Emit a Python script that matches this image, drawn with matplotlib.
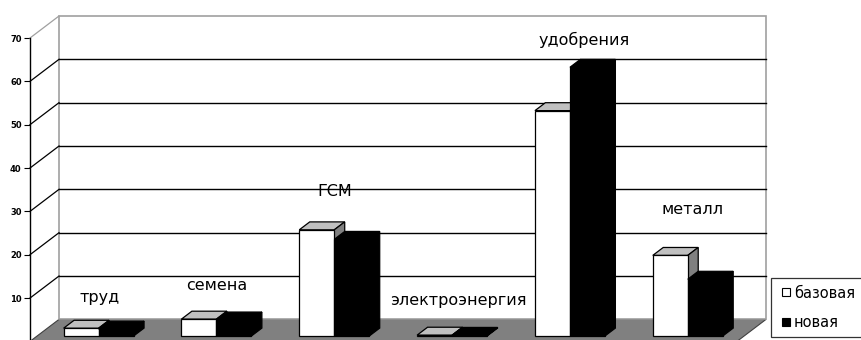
import matplotlib.pyplot as plt
from matplotlib.patches import Polygon
from matplotlib.lines import Line2D

# cost components, base vs new variant
categories = ["труд", "семена", "ГСМ", "электроэнергия", "удобрения", "металл"]
base = [1.8, 3.9, 24.5, 0.2, 52, 18.6]
new = [1.6, 3.7, 22.3, 0.15, 62, 13.1]
series_names = ["базовая", "новая"]
yticks = [10, 20, 30, 40, 50, 60, 70]

# label anchor positions (slot units, value units)
label_x = [0.594, 1.587, 2.588, 3.632, 4.702, 5.627]
label_y = [10.2, 12.8, 34.7, 9.5, 69.5, 30.5]

# oblique 3d look: depth offset of the back wall in data units
wall_dx, wall_dy = 0.2461, 5.076
bar_front, bar_depth = 0.245, 0.36
bar_w = 0.297
bar_off = 0.225

fig = plt.figure(figsize=(8.61, 3.40), dpi=100)
ax = fig.add_axes([30 / 861, -1.4 / 340, 707 / 861, 303.4 / 340])
ax.set_xlim(0, 6)
ax.set_ylim(0, 70)
ax.patch.set_visible(False)
for s in ["top", "right", "bottom"]:
    ax.spines[s].set_visible(False)
ax.spines["left"].set_linewidth(1.0)
ax.spines["left"].set_zorder(6)
ax.set_xticks([])
ax.set_yticks(yticks)
ax.set_yticklabels([str(t) for t in yticks], fontsize=6, fontweight="bold")
ax.tick_params(axis="y", direction="out", length=4, width=0.8, pad=2)

n = len(categories)
top = yticks[-1]

# floor
ax.add_patch(Polygon([(0, 0), (n, 0), (n + wall_dx, wall_dy), (wall_dx, wall_dy)],
                     closed=True, facecolor="#808080", edgecolor="#404040",
                     lw=0.8, clip_on=False, zorder=1))
# back wall
ax.add_patch(Polygon([(wall_dx, wall_dy), (n + wall_dx, wall_dy),
                      (n + wall_dx, top + wall_dy), (wall_dx, top + wall_dy)],
                     closed=True, facecolor="white", edgecolor="#a0a0a0",
                     lw=1.2, clip_on=False, zorder=1))
# gridlines on back wall and side diagonals
for t in yticks:
    col = "#a0a0a0" if t == top else "black"
    if t != top:
        ax.plot([wall_dx, n + wall_dx], [t + wall_dy, t + wall_dy],
                color="black", lw=1.0, clip_on=False, zorder=2)
    ax.plot([0, wall_dx], [t, t + wall_dy], color=col, lw=0.9,
            clip_on=False, zorder=2)

fx = bar_front * wall_dx
fy = bar_front * wall_dy
ddx = bar_depth * wall_dx
ddy = bar_depth * wall_dy

styles = [
    dict(front="white", top="#c0c0c0", side="#808080", z=3),
    dict(front="black", top="black", side="black", z=4),
]

for k, vals in enumerate([base, new]):
    st = styles[k]
    xs = [i + bar_off + k * bar_w + fx for i in range(n)]
    ax.bar(xs, vals, width=bar_w, bottom=fy, align="edge", color=st["front"],
           edgecolor="black", lw=0.9, clip_on=False, zorder=st["z"] + 0.2)
    for x, v in zip(xs, vals):
        yt = fy + v
        ax.add_patch(Polygon([(x, yt), (x + bar_w, yt), (x + bar_w + ddx, yt + ddy),
                              (x + ddx, yt + ddy)], closed=True, facecolor=st["top"],
                             edgecolor="black", lw=0.9, clip_on=False, zorder=st["z"]))
        ax.add_patch(Polygon([(x + bar_w, fy), (x + bar_w + ddx, fy + ddy),
                              (x + bar_w + ddx, yt + ddy), (x + bar_w, yt)], closed=True,
                             facecolor=st["side"], edgecolor="black", lw=0.9,
                             clip_on=False, zorder=st["z"]))

for name, lx, ly in zip(categories, label_x, label_y):
    ax.text(lx, ly, name, ha="center", va="center", fontsize=11.5,
            family="DejaVu Sans", color="black", zorder=7, clip_on=False)

handles = [Line2D([], [], ls="none", marker="s", markersize=6,
                  markerfacecolor="white", markeredgecolor="black", markeredgewidth=0.8),
           Line2D([], [], ls="none", marker="s", markersize=6,
                  markerfacecolor="black", markeredgecolor="black", markeredgewidth=0.8)]
leg = ax.legend(handles, series_names, loc="upper left",
                bbox_to_anchor=(771 / 861, 1 - 278 / 340),
                bbox_transform=fig.transFigure, fontsize=10.5, frameon=True,
                fancybox=False, edgecolor="black", borderaxespad=0,
                handlelength=1.0, handletextpad=0.05,
                labelspacing=0.97, borderpad=0.52)
leg.get_frame().set_linewidth(0.9)

fig.savefig("out.png", dpi=100, facecolor="white")
